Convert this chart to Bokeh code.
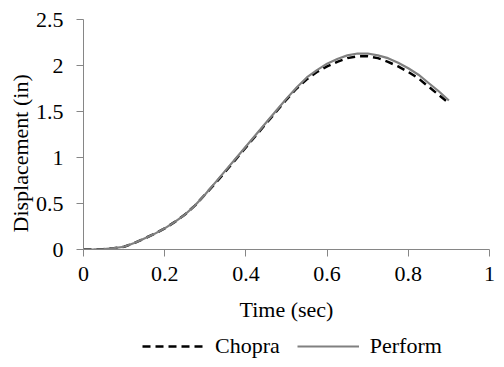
from bokeh.plotting import figure
from bokeh.layouts import column
from bokeh.models import Legend, LegendItem, Title, FixedTicker, Range1d
from bokeh.embed import file_html
from bokeh.resources import INLINE

# Time history of displacement: hand solution vs. Perform model
time_sec = [0.0, 0.025, 0.05, 0.075, 0.1, 0.125, 0.15, 0.175, 0.2, 0.225,
            0.25, 0.275, 0.3, 0.325, 0.35, 0.375, 0.4, 0.425, 0.45, 0.475,
            0.5, 0.525, 0.55, 0.575, 0.6, 0.625, 0.65, 0.675, 0.7, 0.725,
            0.75, 0.775, 0.8, 0.825, 0.85, 0.875, 0.9]
chopra_in = [0.0, 0.001, 0.005, 0.014, 0.03, 0.07, 0.12, 0.17, 0.23, 0.30,
             0.38, 0.48, 0.60, 0.72, 0.85, 0.98, 1.11, 1.24, 1.37, 1.50,
             1.63, 1.75, 1.85, 1.93, 1.99, 2.04, 2.08, 2.10, 2.10, 2.08,
             2.04, 1.99, 1.93, 1.86, 1.77, 1.68, 1.59]
perform_in = [0.0, 0.001, 0.005, 0.014, 0.03, 0.07, 0.12, 0.17, 0.23, 0.30,
              0.38, 0.48, 0.60, 0.73, 0.86, 0.99, 1.12, 1.25, 1.38, 1.51,
              1.64, 1.76, 1.87, 1.95, 2.02, 2.07, 2.11, 2.13, 2.13, 2.11,
              2.08, 2.03, 1.97, 1.90, 1.81, 1.72, 1.62]

x_ticks = [0, 0.2, 0.4, 0.6, 0.8, 1]
y_ticks = [0, 0.5, 1, 1.5, 2, 2.5]

FONT = "Liberation Serif"
FS = "22px"
AXIS_GREY = "#868686"
CHOPRA_STYLE = dict(line_color="black", line_width=2.5, line_dash="8 5",
                    line_join="round")
PERFORM_STYLE = dict(line_color="#808080", line_width=2.2, line_join="round")

p = figure(width=504, height=328, output_backend="svg", toolbar_location=None,
           x_range=Range1d(0, 1), y_range=Range1d(0, 2.5),
           min_border_left=83, min_border_right=15,
           min_border_top=19, min_border_bottom=79)
p.outline_line_color = None
p.grid.visible = False
p.background_fill_color = "white"
p.border_fill_color = "white"

p.line(time_sec, chopra_in, **CHOPRA_STYLE)
p.line(time_sec, perform_in, **PERFORM_STYLE)

for ax in (p.xaxis[0], p.yaxis[0]):
    ax.axis_line_color = AXIS_GREY
    ax.major_tick_line_color = AXIS_GREY
    ax.minor_tick_line_color = None
    ax.major_tick_in = 0
    ax.major_tick_out = 7
    ax.major_label_text_font = FONT
    ax.major_label_text_font_size = FS
    ax.major_label_text_color = "black"

p.xaxis[0].ticker = FixedTicker(ticks=x_ticks)
p.yaxis[0].ticker = FixedTicker(ticks=y_ticks)
p.xaxis[0].major_label_overrides = {0: "0", 1: "1"}
p.yaxis[0].major_label_overrides = {0: "0", 1: "1", 2: "2"}
p.xaxis[0].major_label_standoff = 10
p.yaxis[0].major_label_standoff = 13

p.xaxis[0].axis_label = "Time (sec)"
p.xaxis[0].axis_label_text_font = FONT
p.xaxis[0].axis_label_text_font_size = FS
p.xaxis[0].axis_label_text_font_style = "normal"
p.xaxis[0].axis_label_text_color = "black"
p.xaxis[0].axis_label_standoff = 13

# y label as a side title so it can be shifted along the axis
ylab = Title(text="Displacement (in)", align="left", offset=17,
             text_font=FONT, text_font_size=FS, text_font_style="normal",
             text_color="black", standoff=0)
p.add_layout(ylab, "left")

# legend strip underneath the chart; its own lines sit outside its view
leg = figure(width=504, height=39, output_backend="svg", toolbar_location=None,
             x_range=Range1d(0, 1), y_range=Range1d(100, 101),
             min_border_left=83, min_border_right=15,
             min_border_top=0, min_border_bottom=0)
leg.axis.visible = False
leg.grid.visible = False
leg.outline_line_color = None
leg_chopra = leg.line(time_sec, chopra_in, **CHOPRA_STYLE)
leg_perform = leg.line(time_sec, perform_in, **PERFORM_STYLE)

legend = Legend(items=[LegendItem(label="Chopra", renderers=[leg_chopra]),
                       LegendItem(label="Perform", renderers=[leg_perform])],
                orientation="horizontal", location=(59, 8),
                label_text_font=FONT, label_text_font_size=FS,
                label_text_color="black",
                glyph_width=62, glyph_height=20, label_height=20,
                label_standoff=11, spacing=17, padding=0, margin=0,
                border_line_color=None, background_fill_alpha=0)
leg.add_layout(legend, "center")

page = column(p, leg, spacing=0)
open("out.html", "w").write(file_html(page, INLINE))
